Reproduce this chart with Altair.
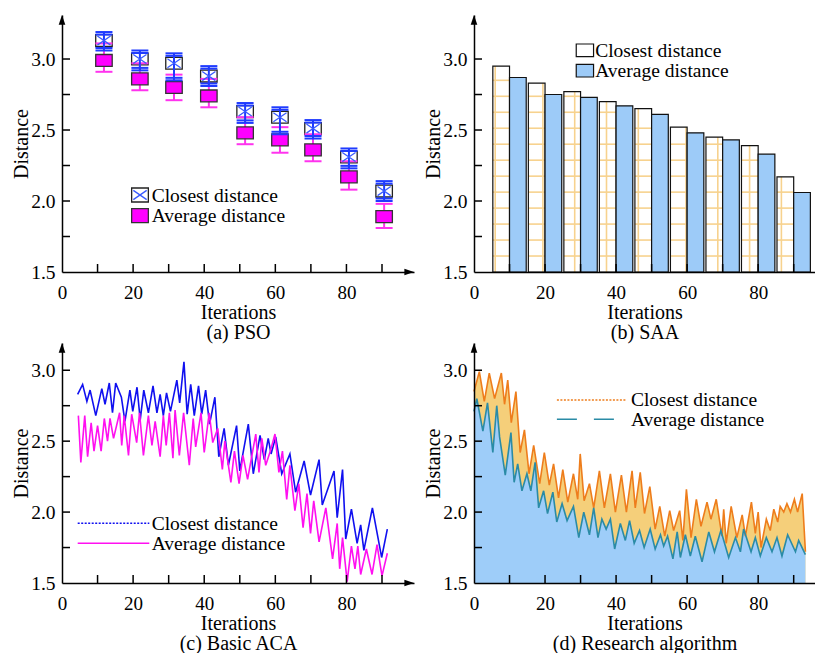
import altair as alt
import pandas as pd

FONT = "Liberation Serif"
INK = "#000000"

# ---------------- (a) PSO ----------------
pso_iter = [11.8, 21.9, 31.5, 41.3, 51.5, 61.3, 70.6, 80.7, 90.6]
pso_closest = [3.13, 3.00, 2.97, 2.88, 2.63, 2.59, 2.51, 2.31, 2.07]
pso_closest_low = [3.06, 2.92, 2.85, 2.81, 2.55, 2.47, 2.44, 2.23, 2.00]
pso_closest_high = [3.19, 3.06, 3.04, 2.95, 2.69, 2.66, 2.57, 2.37, 2.14]
pso_average = [2.99, 2.86, 2.80, 2.74, 2.48, 2.43, 2.36, 2.17, 1.89]
pso_average_low = [2.91, 2.78, 2.71, 2.66, 2.40, 2.34, 2.28, 2.08, 1.81]
pso_average_high = [3.11, 2.97, 2.89, 2.86, 2.59, 2.52, 2.47, 2.28, 1.98]

# ---------------- (b) SAA ----------------
saa_iter = [10, 20, 30, 40, 50, 60, 70, 80, 90]
saa_closest = [2.95, 2.83, 2.77, 2.70, 2.65, 2.52, 2.45, 2.39, 2.17]
saa_average = [2.87, 2.75, 2.73, 2.67, 2.61, 2.48, 2.43, 2.33, 2.06]

# ---------------- (c) Basic ACA ----------------
aca_closest_iter = [4.4, 5.8, 7.0, 7.9, 9.5, 11.2, 12.1, 13.3, 14.2, 15.1, 16.7, 17.7, 19.1, 19.9,
                    21.1, 22.0, 23.0, 24.3, 25.6, 26.7, 27.6, 28.5, 29.4, 30.5, 32.3, 33.1, 34.3,
                    35.2, 36.2, 37.2, 38.4, 39.3, 40.4, 41.5, 43.0, 44.1, 45.6, 46.8, 49.1, 50.0,
                    52.4, 53.8, 55.7, 56.9, 58.0, 58.8, 60.1, 61.8, 64.1, 65.7, 68.1, 69.9, 72.3,
                    73.2, 76.5, 77.4, 78.9, 79.8, 81.4, 83.0, 84.0, 84.9, 87.3, 89.9, 91.5]
aca_closest = [2.83, 2.90, 2.78, 2.86, 2.68, 2.87, 2.76, 2.91, 2.70, 2.91, 2.81, 2.64, 2.86, 2.71,
               2.88, 2.65, 2.86, 2.70, 2.89, 2.70, 2.83, 2.68, 2.84, 2.71, 2.93, 2.77, 3.06,
               2.69, 2.90, 2.68, 2.89, 2.69, 2.86, 2.62, 2.81, 2.39, 2.59, 2.33, 2.61, 2.29,
               2.62, 2.27, 2.54, 2.37, 2.52, 2.41, 2.53, 2.27, 2.41, 2.14, 2.36, 2.12, 2.37,
               2.05, 2.29, 1.96, 2.30, 1.81, 2.02, 1.78, 1.91, 1.73, 2.03, 1.68, 1.88]
aca_average_iter = [4.6, 5.3, 6.4, 7.2, 8.2, 9.0, 10.0, 11.0, 11.9, 12.8, 13.5, 14.5, 16.2, 16.8,
                    17.5, 18.7, 19.6, 21.0, 21.8, 22.9, 24.3, 25.3, 26.2, 27.6, 28.5, 29.3, 30.2,
                    31.2, 31.8, 33.0, 34.2, 35.8, 36.9, 37.6, 39.1, 40.0, 41.4, 42.4, 43.8, 45.1,
                    45.8, 47.5, 48.5, 49.8, 50.9, 52.2, 54.5, 55.4, 56.2, 57.3, 58.6, 59.9, 61.0,
                    62.0, 63.2, 64.1, 65.5, 66.6, 67.8, 68.9, 69.9, 70.8, 72.3, 74.2, 76.1, 77.4,
                    78.1, 78.9, 80.2, 81.4, 82.4, 83.2, 84.0, 85.6, 87.2, 88.6, 90.0, 91.5]
aca_average = [2.68, 2.35, 2.68, 2.39, 2.63, 2.43, 2.61, 2.43, 2.66, 2.50, 2.66, 2.52, 2.70, 2.47,
               2.68, 2.40, 2.69, 2.49, 2.70, 2.40, 2.68, 2.47, 2.64, 2.39, 2.68, 2.47, 2.70,
               2.38, 2.72, 2.40, 2.70, 2.33, 2.66, 2.46, 2.70, 2.42, 2.70, 2.49, 2.59, 2.30,
               2.50, 2.21, 2.43, 2.20, 2.40, 2.23, 2.55, 2.28, 2.52, 2.33, 2.43, 2.55, 2.28,
               2.43, 2.09, 2.33, 2.01, 2.20, 1.89, 2.13, 1.85, 2.08, 1.79, 2.03, 1.67, 1.92,
               1.60, 1.82, 1.51, 1.76, 1.60, 1.76, 1.56, 1.74, 1.56, 1.77, 1.55, 1.71]

# ---------------- (d) Research algorithm ----------------
res_closest_iter = [0, 1.5, 2.9, 4.3, 5.8, 7.7, 8.6, 9.5, 10.5, 11.8, 13.0, 14.2, 15.5, 16.8, 18.5,
                    19.8, 21.2, 22.4, 23.8, 25.0, 26.4, 28.0, 29.2, 29.9, 31.0, 32.5, 33.7, 35.3,
                    36.7, 38.4, 39.8, 41.5, 42.9, 44.5, 45.4, 46.8, 48.0, 49.5, 51.0, 52.3, 53.7,
                    55.1, 56.2, 57.9, 58.8, 59.8, 61.1, 62.6, 63.9, 65.6, 66.7, 68.2, 69.8, 70.3,
                    71.0, 72.4, 74.0, 75.5, 76.4, 78.1, 79.2, 80.0, 80.8, 82.3, 83.4, 84.4, 85.5,
                    86.2, 87.2, 88.1, 89.1, 90.2, 91.1, 92.4, 93.3]
res_closest = [2.85, 2.99, 2.78, 2.98, 2.80, 2.98, 2.76, 2.93, 2.63, 2.85, 2.42, 2.58, 2.27, 2.47,
               2.20, 2.42, 2.19, 2.34, 2.10, 2.30, 2.07, 2.27, 2.09, 2.41, 2.08, 2.20, 2.03, 2.29,
               2.03, 2.27, 2.00, 2.26, 2.00, 2.29, 2.03, 2.28, 1.99, 2.18, 1.88, 2.04, 1.83,
               2.01, 1.87, 2.01, 1.80, 2.16, 1.82, 2.09, 1.90, 2.07, 1.95, 2.09, 1.83, 2.02,
               1.78, 2.04, 1.82, 1.98, 1.83, 2.07, 1.85, 2.00, 1.75, 1.95, 1.87, 2.02, 1.93,
               2.04, 2.00, 2.06, 2.00, 2.09, 2.00, 2.13, 1.72]
res_average_iter = [0, 0.8, 2.5, 3.8, 5.3, 6.4, 7.2, 8.8, 10.4, 11.3, 12.3, 13.5, 14.9, 16.0, 17.2,
                    18.2, 19.6, 20.7, 22.2, 23.3, 24.8, 26.2, 28.0, 29.5, 30.9, 32.5, 33.7, 34.9,
                    36.0, 37.2, 38.4, 39.6, 41.2, 42.6, 43.8, 45.1, 46.6, 47.9, 49.6, 51.0, 52.5,
                    53.4, 54.5, 56.0, 57.2, 58.1, 59.5, 60.9, 62.3, 64.2, 66.1, 67.7, 69.5, 71.7,
                    73.6, 75.0, 75.9, 78.0, 79.2, 80.6, 82.3, 83.9, 85.3, 86.7, 88.3, 90.5, 91.4, 93.3]
res_average = [2.71, 2.80, 2.57, 2.77, 2.42, 2.75, 2.53, 2.26, 2.56, 2.21, 2.34, 2.15, 2.27, 2.15,
               2.35, 2.03, 2.15, 1.99, 2.14, 1.93, 2.06, 1.94, 2.04, 1.82, 2.00, 1.84, 2.03, 1.82,
               1.95, 1.88, 1.95, 1.74, 1.92, 1.80, 1.94, 1.78, 1.87, 1.75, 1.88, 1.74, 1.84,
               1.76, 1.83, 1.67, 1.86, 1.68, 1.84, 1.69, 1.83, 1.65, 1.86, 1.72, 1.87, 1.68,
               1.82, 1.72, 1.88, 1.72, 1.82, 1.69, 1.82, 1.72, 1.82, 1.69, 1.84, 1.72, 1.80, 1.70]

x_label_values = [0, 20, 40, 60, 80]
x_minor_ticks = [10, 20, 30, 40, 50, 60, 70, 80, 90]
y_label_values = [1.5, 2.0, 2.5, 3.0]
y_minor_ticks = [1.75, 2.0, 2.25, 2.5, 2.75, 3.0]

# ---------------- layout / style ----------------
W_L, XMAX_L = 352, 99
W_R, XMAX_R = 341, 96
H_TOP, YMAX_TOP = 257, 3.31
H_BOT, YMAX_BOT = 240, 3.192

RECT = "M-1,-0.72L1,-0.72L1,0.72L-1,0.72Z"
RECT_LEG = "M-1,-0.84L1,-0.84L1,0.84L-1,0.84Z"
RECT_LEG_B = "M-1,-0.73L1,-0.73L1,0.73L-1,0.73Z"
CROSS = "M-0.8,-0.55L0.8,0.55M-0.8,0.55L0.8,-0.55"
HBAR = "M-1,0L1,0"
ARROW_UP = "M0,-1L0.6,0.75L-0.6,0.75Z"
ARROW_RIGHT = "M1,0L-0.75,0.6L-0.75,-0.6Z"

BLUE_BAR = "#1F3BFF"
MAG_BAR = "#FF33EE"
ONE = pd.DataFrame({"k": [0]})


def x_axis(caption, W):
    return alt.Axis(values=x_label_values, format="d", ticks=False, tickSize=0, grid=False,
                    labelFont=FONT, labelFontSize=19, labelColor=INK, labelPadding=11,
                    labelFlush=False, labelOverlap=False,
                    domainColor=INK, domainWidth=1.5, zindex=1,
                    title=["Iterations", caption], titleFont=FONT, titleFontSize=20,
                    titleFontWeight="normal", titleColor=INK, titleX=W / 2, titleY=30,
                    titleAlign="center", titleBaseline="top", titleLineHeight=20.5)


def y_axis(H):
    return alt.Axis(values=y_label_values, format=".1f", ticks=False, tickSize=0, grid=False,
                    labelFont=FONT, labelFontSize=19.5, labelColor=INK, labelPadding=7,
                    labelFlush=False, labelOverlap=False,
                    domainColor=INK, domainWidth=1.5, zindex=1,
                    title="Distance", titleFont=FONT, titleFontSize=20, titleFontWeight="normal",
                    titleColor=INK, titleX=-35, titleY=H / 2, titleAngle=270,
                    titleAlign="center", titleBaseline="alphabetic")


class Panel:
    def __init__(self, caption, W, H, xmax, ymax):
        self.W, self.H = W, H
        self.xsc = alt.Scale(domain=[0, xmax], nice=False, zero=False)
        self.ysc = alt.Scale(domain=[1.5, ymax], nice=False, zero=False)
        self.ax = x_axis(caption, W)
        self.ay = y_axis(H)

    def X(self, f):
        return alt.X(f + ":Q", scale=self.xsc, axis=self.ax)

    def Y(self, f):
        return alt.Y(f + ":Q", scale=self.ysc, axis=self.ay)

    def frame(self, x_arrow):
        t1 = alt.Chart(pd.DataFrame({"t": x_minor_ticks})).mark_rule(color=INK, strokeWidth=1.5).encode(
            x=self.X("t"), y=alt.value(self.H), y2=alt.value(self.H - 8))
        t2 = alt.Chart(pd.DataFrame({"t": y_minor_ticks})).mark_rule(color=INK, strokeWidth=1.5).encode(
            y=self.Y("t"), x=alt.value(0), x2=alt.value(8))
        up = alt.Chart(ONE).mark_point(shape=ARROW_UP, size=121, filled=True, color=INK, opacity=1,
                                       strokeWidth=0).encode(x=alt.value(0), y=alt.value(5.5))
        layers = [t1, t2, up]
        if x_arrow:
            layers.append(alt.Chart(ONE).mark_point(shape=ARROW_RIGHT, size=121, filled=True,
                                                    color=INK, opacity=1, strokeWidth=0).encode(
                x=alt.value(self.W - 5.5), y=alt.value(self.H)))
        return layers


def label(text, x, y):
    return alt.Chart(ONE).mark_text(text=text, font=FONT, fontSize=19.5, color=INK, align="left",
                                    baseline="alphabetic").encode(x=alt.value(x), y=alt.value(y))


def sym(shape, size, fill, stroke, x, y, sw=1.3):
    return alt.Chart(ONE).mark_point(shape=shape, size=size, filled=True, fill=fill, stroke=stroke,
                                     strokeWidth=sw, opacity=1).encode(x=alt.value(x), y=alt.value(y))


def seg(x1, x2, y, color, dash, width=1.6):
    return alt.Chart(ONE).mark_rule(color=color, strokeWidth=width, strokeDash=dash).encode(
        x=alt.value(x1), x2=alt.value(x2), y=alt.value(y))


# ---------------- panel (a) ----------------
pa = Panel("(a) PSO", W_L, H_TOP, XMAX_L, YMAX_TOP)
df_a = pd.DataFrame({"iter": pso_iter, "closest": pso_closest, "c_lo": pso_closest_low,
                     "c_hi": pso_closest_high, "avg": pso_average, "a_lo": pso_average_low,
                     "a_hi": pso_average_high})


def cap(field, color, yoff=0.0):
    return alt.Chart(df_a).mark_point(shape=HBAR, size=289, filled=False, color=color, strokeWidth=2,
                                      opacity=1, yOffset=yoff).encode(x=pa.X("iter"), y=pa.Y(field))


a_layers = [
    alt.Chart(df_a).mark_point(shape=RECT, size=272, filled=True, fill="white", stroke="#222222",
                               strokeWidth=1.3, opacity=1).encode(x=pa.X("iter"), y=pa.Y("closest")),
    alt.Chart(df_a).mark_rule(color=MAG_BAR, strokeWidth=2).encode(
        x=pa.X("iter"), y=pa.Y("a_lo"), y2="a_hi:Q"),
    cap("a_lo", MAG_BAR), cap("a_hi", MAG_BAR),
    alt.Chart(df_a).mark_point(shape=RECT, size=272, filled=True, fill="#FF00FF", stroke="#333333",
                               strokeWidth=1.3, opacity=1).encode(x=pa.X("iter"), y=pa.Y("avg")),
    alt.Chart(df_a).mark_rule(color=BLUE_BAR, strokeWidth=2).encode(
        x=pa.X("iter"), y=pa.Y("c_lo"), y2="c_hi:Q"),
    cap("c_hi", BLUE_BAR), cap("c_hi", BLUE_BAR, 2.5), cap("c_lo", BLUE_BAR), cap("c_lo", BLUE_BAR, -2.5),
    alt.Chart(df_a).mark_point(shape=CROSS, size=272, filled=False, color="#3A5BFF", strokeWidth=1.3,
                               opacity=1).encode(x=pa.X("iter"), y=pa.Y("closest")),
]
a_layers += pa.frame(True)
a_layers += [
    sym(RECT_LEG, 279, "white", "#222222", 78, 180),
    alt.Chart(ONE).mark_point(shape=CROSS, size=279, filled=False, color="#3A5BFF", strokeWidth=1.3,
                              opacity=1).encode(x=alt.value(78), y=alt.value(180)),
    label("Closest distance", 89.7, 187),
    sym(RECT_LEG, 279, "#FF00FF", "#333333", 78, 200.7),
    label("Average distance", 89.7, 206.9),
]
panel_a = alt.layer(*a_layers).properties(width=W_L, height=H_TOP)

# ---------------- panel (b) ----------------
pb = Panel("(b) SAA", W_R, H_TOP, XMAX_R, YMAX_TOP)
BAR_W = 4.7
df_b = pd.DataFrame({"iter": saa_iter, "closest": saa_closest, "avg": saa_average})
df_b["left"] = df_b["iter"] - BAR_W
df_b["right"] = df_b["iter"] + BAR_W

HATCH_DY, HATCH_DX, HATCH_X0 = 0.1125, 4.476, 5.97
rows_h, rows_v = [], []
for c, top in zip(saa_iter, saa_closest):
    lo, hi = c - BAR_W, c
    k = 1
    while 1.5 + k * HATCH_DY < top - 0.03:
        rows_h.append({"x0": lo, "x1": hi, "lvl": 1.5 + k * HATCH_DY})
        k += 1
    m = 0
    while HATCH_X0 + m * HATCH_DX < hi - 0.3:
        xv = HATCH_X0 + m * HATCH_DX
        if xv > lo + 0.3:
            rows_v.append({"xv": xv, "top": top})
        m += 1
df_hh = pd.DataFrame(rows_h)
df_hv = pd.DataFrame(rows_v)

HATCH = "#F7D28E"
b_layers = [
    alt.Chart(df_b).mark_bar(fill="white", strokeWidth=0).encode(
        x=pb.X("left"), x2="iter:Q", y=pb.Y("closest"), y2=alt.datum(1.5)),
    alt.Chart(df_hh).mark_rule(color=HATCH, strokeWidth=1.6).encode(
        x=pb.X("x0"), x2="x1:Q", y=pb.Y("lvl")),
    alt.Chart(df_hv).mark_rule(color=HATCH, strokeWidth=1.6).encode(
        x=pb.X("xv"), y=pb.Y("top"), y2=alt.datum(1.5)),
    alt.Chart(df_b).mark_bar(fillOpacity=0, stroke="#111111", strokeWidth=1.2).encode(
        x=pb.X("left"), x2="iter:Q", y=pb.Y("closest"), y2=alt.datum(1.5)),
    alt.Chart(df_b).mark_bar(fill="#9DCBF8", stroke="#111111", strokeWidth=1.2).encode(
        x=pb.X("iter"), x2="right:Q", y=pb.Y("avg"), y2=alt.datum(1.5)),
]
b_layers += pb.frame(False)
b_layers += [
    sym(RECT_LEG_B, 300, "white", "#111111", 110.9, 35.3, 1.2),
    label("Closest distance", 121.2, 41.7),
    sym(RECT_LEG_B, 300, "#9DCBF8", "#111111", 110.9, 55.7, 1.2),
    label("Average distance", 121.2, 62.3),
]
panel_b = alt.layer(*b_layers).properties(width=W_R, height=H_TOP)

# ---------------- panel (c) ----------------
pc = Panel("(c) Basic ACA", W_L, H_BOT, XMAX_L, YMAX_BOT)
df_c1 = pd.DataFrame({"iter": aca_closest_iter, "v": aca_closest})
df_c2 = pd.DataFrame({"iter": aca_average_iter, "v": aca_average})
c_layers = [
    alt.Chart(df_c1).mark_line(color="#1010F0", strokeWidth=1.6).encode(x=pc.X("iter"), y=pc.Y("v")),
    alt.Chart(df_c2).mark_line(color="#FF10F0", strokeWidth=1.6).encode(x=pc.X("iter"), y=pc.Y("v")),
]
c_layers += pc.frame(True)
c_layers += [
    seg(15.7, 87.3, 180.3, "#1010F0", [2, 1.5]),
    label("Closest distance", 89.7, 187),
    seg(15.7, 87.3, 200.3, "#FF10F0", [1, 0]),
    label("Average distance", 89.7, 207),
]
panel_c = alt.layer(*c_layers).properties(width=W_L, height=H_BOT)

# ---------------- panel (d) ----------------
pd_ = Panel("(d) Research algorithm", W_R, H_BOT, XMAX_R, YMAX_BOT)
df_d1 = pd.DataFrame({"iter": res_closest_iter, "v": res_closest})
df_d2 = pd.DataFrame({"iter": res_average_iter, "v": res_average})
d_layers = [
    alt.Chart(df_d1).mark_area(color="#F5CF7A", opacity=1).encode(
        x=pd_.X("iter"), y=pd_.Y("v"), y2=alt.datum(1.5)),
    alt.Chart(df_d2).mark_area(color="#9ECDF9", opacity=1).encode(
        x=pd_.X("iter"), y=pd_.Y("v"), y2=alt.datum(1.5)),
    alt.Chart(df_d1).mark_line(color="#EE7D1C", strokeWidth=1.6).encode(x=pd_.X("iter"), y=pd_.Y("v")),
    alt.Chart(df_d2).mark_line(color="#2A8BA6", strokeWidth=1.6).encode(x=pd_.X("iter"), y=pd_.Y("v")),
]
d_layers += pd_.frame(False)
d_layers += [
    seg(82.9, 152.9, 57, "#EE7D1C", [2, 1.5]),
    label("Closest distance", 156.9, 63),
    seg(82.9, 152.9, 76.3, "#2A8BA6", [20, 17]),
    label("Average distance", 156.9, 83),
]
panel_d = alt.layer(*d_layers).properties(width=W_R, height=H_BOT)

top_row = alt.hconcat(panel_a, panel_b, spacing=9)
bottom_row = alt.hconcat(panel_c, panel_d, spacing=9)
chart = alt.vconcat(top_row, bottom_row, spacing=0).properties(
    padding={"left": 11, "top": 15, "right": 0, "bottom": 0}, background="white"
).configure_view(stroke=None)

chart.save("out.html", embed_options={"renderer": "svg", "actions": False})
